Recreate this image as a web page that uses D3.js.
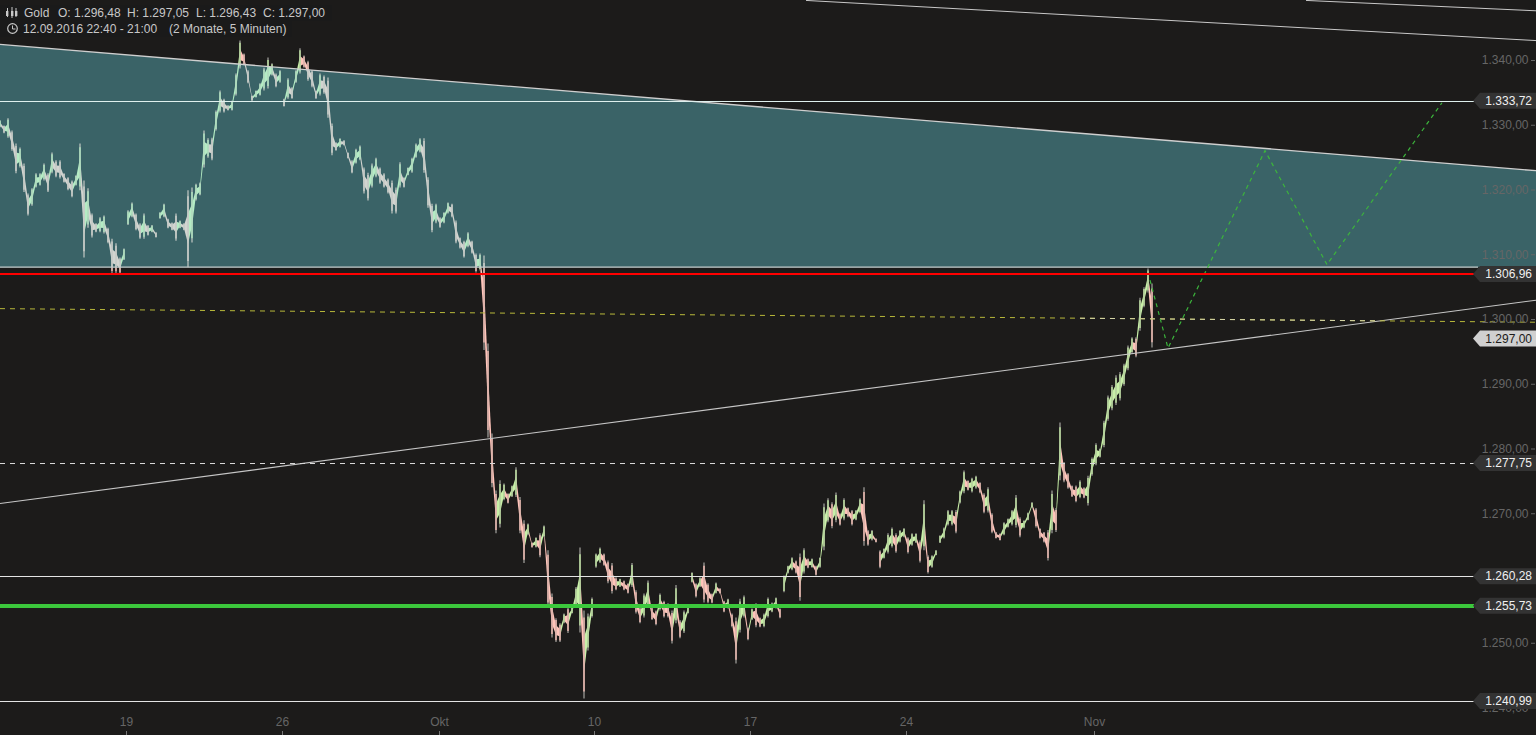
<!DOCTYPE html>
<html><head><meta charset="utf-8">
<script src="https://cdn.jsdelivr.net/npm/d3@7"></script>
<style>
html,body{margin:0;padding:0;background:#1c1b1a;overflow:hidden}
svg{display:block}
text{font-family:"Liberation Sans",Arial,sans-serif;font-size:12px}
</style></head><body>
<svg id="c" width="1536" height="735"></svg>
<script>
// one sample for every 4-pixel column of the original chart
const highs = [
1330.7,1329.9,1331,1329.1,1327.1,1326.5,1324,1319.4,1320.2,1322.5,
1322.5,1324,1322.5,1325.7,1324.5,1324.5,1322.5,1321.9,1321.4,1322.2,
1327.1,1321.4,1320.2,1316.3,1314.8,1315.7,1316,1314.1,1312.4,1311.7,
1309.5,1310.9,1316.8,1318,1316.3,1314.8,1316.3,1314.5,1314.5,1313.4,
1316.5,1317.8,1315.5,1314.9,1316.3,1315.2,1314.8,1319.9,1320.3,1320.9,
1321.1,1329.1,1327.9,1328,1332.2,1335.3,1334,1333,1333.7,1337.9,
1343,1341,1338.4,1334.5,1335.3,1336.4,1338.8,1340.4,1339.5,1337.9,
1338.4,1334,1337.2,1335.8,1338.4,1341.8,1340.7,1339.9,1338.4,1335.3,
1337.9,1337.6,1337.3,1330.2,1327.3,1327.9,1327.6,1325.7,1324.5,1326.3,
1326.8,1323.4,1322.6,1324,1324.9,1323.4,1322.5,1321.7,1321.4,1320.3,
1324.2,1321.9,1323.4,1324.9,1327.1,1327.9,1327.9,1321.9,1317.8,1317.8,
1315.7,1316.5,1318,1317.8,1315.2,1312.6,1312.1,1313.4,1312.1,1310.1,
1310.1,1309.8,1296.2,1282.3,1273.5,1275.1,1274.6,1273.1,1274.3,1277.1,
1272.5,1268.9,1268.4,1265.5,1266.3,1266.9,1268.1,1264.3,1257.6,1253.8,
1253,1254.5,1255.5,1255.5,1258.6,1264.7,1255,1254.5,1257,1263.8,
1264.7,1263.8,1262.7,1262.3,1260.1,1259.9,1259.6,1259.2,1262.3,1258.1,
1255.5,1257.6,1259.6,1255.5,1255,1257.6,1256.5,1256.1,1255,1258.9,
1253.5,1255,1255.5,1260.9,1259.2,1260.1,1262.4,1259.2,1257.6,1259.3,
1258.4,1256.5,1256.8,1254.5,1253.9,1256.8,1257.3,1252.4,1255.3,1256.1,
1253.9,1254.5,1257,1256.2,1257,1255.3,1260.4,1261.9,1263.2,1262.7,
1263.8,1264.6,1263,1263,1261.9,1263.2,1271.5,1272.3,1271.7,1273.2,
1270,1272.3,1270.9,1270.5,1270.5,1272.3,1274,1267.4,1267.4,1266.1,
1264.3,1264.6,1266.9,1267.8,1266.9,1267.4,1267.7,1266.3,1266.9,1266.9,
1265.8,1272,1263.5,1263.5,1264.3,1266.6,1267.8,1270.5,1270.5,1270.5,
1273.5,1276.6,1275.1,1275.5,1275.8,1274.8,1273.1,1274,1270,1267.1,
1266.9,1268.6,1269.2,1270.5,1272.8,1269.4,1268.9,1270.1,1271.7,1270.8,
1267.7,1267.1,1267.4,1273.5,1270.8,1284,1277.9,1276.2,1274.3,1274.3,
1275.1,1274,1275.8,1278.6,1280.8,1280,1284.3,1288.2,1289.8,1291.3,
1291.8,1293.1,1295.9,1297.2,1297.2,1303.3,1304.9,1307.8,1305.5
];
const lows = [
1329.6,1328.7,1328,1326,1322.5,1323.4,1319.6,1316,1317.5,1320.3,
1320.6,1321.4,1319.6,1322.5,1321.9,1321.7,1321.1,1319.9,1318.8,1320.6,
1319.9,1309.5,1314.1,1312.6,1313.4,1313.4,1313.2,1311.7,1307,1307,
1307,1309.1,1314.5,1315.7,1313.7,1312.4,1312.4,1312.9,1313.4,1312.6,
1315.5,1315.7,1314,1313.7,1312.1,1314,1313.7,1308,1311.8,1318.3,
1319.1,1323.4,1324.9,1324.5,1329.1,1331.9,1331.9,1332.2,1332.2,1334.5,
1338.7,1339.2,1336.4,1333.7,1334.2,1334.5,1335.3,1335.6,1337.6,1335.8,
1336.5,1332.8,1334,1334,1336.5,1337.9,1338.8,1336.8,1335.8,1334,
1334.5,1334.8,1331.1,1325.3,1326,1326.5,1326.8,1324.8,1322.5,1324,
1324.5,1319.4,1318.3,1320.3,1321.9,1320.9,1320.3,1319.4,1316.3,1316.3,
1320.3,1320.3,1322.2,1322.6,1324.9,1325.7,1322.6,1317.2,1313.4,1314.8,
1314.1,1314.8,1316.3,1315.7,1311.7,1310.9,1309.5,1311.1,1310.1,1307.2,
1307.5,1295.2,1281.7,1274,1266.9,1267.8,1272,1271.5,1272.5,1272.5,
1266.9,1262.3,1266.6,1264.7,1264.7,1263.2,1266.3,1255.5,1250.8,1250.1,
1250.1,1253,1251.5,1254.5,1255.5,1251.6,1241.4,1248.8,1253.9,1261.6,
1262.3,1261.9,1259.2,1257.6,1258.1,1258.6,1258.1,1257.6,1258.6,1254.5,
1253,1253.9,1255.5,1253.5,1252.7,1255,1253.9,1253.9,1249.9,1253,
1250.7,1251.5,1254.5,1259.3,1257,1258.6,1256.2,1256.1,1256.1,1257.6,
1257.6,1254.7,1255.3,1252.4,1246.8,1251.6,1253.9,1250.4,1253.5,1252.4,
1252.4,1252.4,1253.9,1254.7,1255.3,1253.8,1257.8,1260.7,1261.2,1260.7,
1256.5,1260.7,1261.5,1261.6,1260.4,1261.6,1264.3,1268.6,1267.7,1268.6,
1268.1,1268.9,1269.4,1268.1,1268.9,1270,1265,1265,1265.8,1265.5,
1261.5,1263,1263.8,1264.7,1263.9,1265.5,1266.3,1263.8,1265,1265.4,
1262.4,1264.3,1260.7,1261.6,1263.5,1265.4,1266.1,1268.1,1268.1,1266.9,
1271.5,1273.1,1273.5,1273.2,1273.8,1273.1,1270,1270.1,1266.9,1266.1,
1265.8,1266.6,1267.8,1268.1,1267.8,1266.3,1267.7,1268.9,1270.8,1267.8,
1266.1,1265.5,1262.7,1266.9,1267.1,1275.1,1274.8,1273.8,1272.5,1271.7,
1272.3,1272.3,1271.2,1275.8,1277.4,1278.6,1280.2,1284.3,1285.9,1286.7,
1287.4,1289.7,1292.1,1294.7,1294.1,1298.2,1301.8,1304.1,1295.6
];
const sessionBreaks = [31, 39, 70, 148, 172, 195, 219, 234];
const dateTickIndex = [31.5, 70.5, 109.75, 148.5, 187.5, 226.5, 273.5];
const dateTickLabels = ["19", "26", "Okt", "10", "17", "24", "Nov"];
const priceTicks = [1340,1330,1320,1310,1300,1290,1280,1270,1260,1250,1240];
const levelValues = [1333.72, 1306.96, 1277.75, 1260.28, 1255.73, 1240.99];
const bandTop = [[0,1342.4],[384,1322.9]];
const bandBottomPrice = 1308;
const riseLine = [[0,1271.5],[384,1302.9]];
const yellowLine = [[0,1301.6],[384,1299.5]];
const yellowLinePale = [[270,1300.12],[345,1299.71]];
const upperLineA = [[201.5,1349.2],[384,1343]];
const upperLineB = [[326.5,1349.2],[384,1347.6]];
const forecast = [[287.5,1306],[292,1295.5],[316.25,1326],[331.75,1308.4],[360.5,1333.4]];
const lastClose = 1297.00;

const W = 1536, H = 735, lineEnd = 368.5;
const x = d3.scaleLinear().domain([0,384]).range([0,W]);
const y = d3.scaleLinear().domain([1340,1250]).range([60,642.75]);
const de = d3.formatLocale({decimal:",",thousands:".",grouping:[3],currency:["","€"]}).format(",.2f");
const svg = d3.select("#c");
svg.append("rect").attr("width",W).attr("height",H).attr("fill","#1c1b1a");
const defs = svg.append("defs");
const path = d3.line().x(d=>x(d[0])).y(d=>y(d[1]));

const bandPoly = [bandTop[0],bandTop[1],[384,bandBottomPrice],[0,bandBottomPrice]];
svg.append("path").attr("d",path(bandPoly)+"Z").attr("fill","#3a6367");
defs.append("clipPath").attr("id","inBand").append("path").attr("d",path(bandPoly)+"Z");
const outClip = defs.append("clipPath").attr("id","outBand");
outClip.append("path").attr("d",path([[0,1352],[384,1352],bandTop[1],bandTop[0]])+"Z");
outClip.append("path").attr("d",path([[0,bandBottomPrice],[384,bandBottomPrice],[384,1230],[0,1230]])+"Z");

const idx = d3.range(highs.length);
const mid = i => (highs[i]+lows[i])/2;
const isUp = i => i===0 || mid(i)>=mid(i-1);
function candles(clip, upCol, downCol, wick){
  const g = svg.append("g").attr("clip-path",`url(#${clip})`);
  const area = d3.area().x(i=>x(i))
    .y0(i=>y(mid(i)-(highs[i]-lows[i])*.2))
    .y1(i=>y(mid(i)+(highs[i]-lows[i])*.2));
  g.selectAll("path.rib").data(idx.slice(0,-1).filter(i=>!sessionBreaks.includes(i)))
    .join("path").attr("class","rib")
    .attr("d",i=>area([i,i+1]))
    .attr("fill",i=>isUp(i+1)?upCol:downCol);
  g.selectAll("line.w").data(idx).join("line").attr("class","w")
    .attr("x1",i=>x(i)).attr("x2",i=>x(i))
    .attr("y1",i=>y(highs[i])).attr("y2",i=>y(lows[i]))
    .attr("stroke",wick).attr("stroke-width",1.5);
  g.selectAll("line.b").data(idx).join("line").attr("class","b")
    .attr("x1",i=>x(i)).attr("x2",i=>x(i))
    .attr("y1",i=>y(highs[i]-(highs[i]-lows[i])*.08)).attr("y2",i=>y(lows[i]+(highs[i]-lows[i])*.08))
    .attr("stroke",i=>isUp(i)?upCol:downCol).attr("stroke-width",1.3);
}
candles("outBand","#c8f0a8","#ffc4ba","#8a8a86");
candles("inBand","#b4ecc4","#d2d4d0","#a8b4b2");

// trend lines
const drawLine = (pts,col,w,dash)=>svg.append("path").attr("d",path(pts)).attr("fill","none")
  .attr("stroke",col).attr("stroke-width",w).attr("stroke-dasharray",dash||null);
drawLine(upperLineA,"#c8c8c8",1);
drawLine(upperLineB,"#c8c8c8",1);
drawLine(bandTop,"#cfcfcf",1.3);
drawLine([[0,bandBottomPrice],[lineEnd+1,bandBottomPrice]],"#c4cccc",1.3);
drawLine(riseLine,"#c6c6c6",1.1);
drawLine(yellowLine,"#b8b83a",1,"5 5");
drawLine(yellowLinePale,"#d4d4a8",1,"5 5");
drawLine(forecast,"#3cb43c",1.2,"4 4");

// horizontal levels
const levelStyle = {
  1333.72:["#dff0ee",1,null,.5],1306.96:["#ff0000",2,null,.5],1277.75:["#d8d8d8",1,"5 5",.5],
  1260.28:["#e4e4e4",1,null,.5],1255.73:["#3cc83c",4,null,0],1240.99:["#e4e4e4",1,null,.5]
};
// price axis
const axisY = d3.axisLeft(y).tickValues(priceTicks).tickSize(4).tickPadding(2.5).tickFormat(de);
const ay = svg.append("g").attr("transform","translate(1535,0)").call(axisY);
ay.select(".domain").remove();
ay.selectAll("line").attr("stroke","#666");
ay.selectAll("text").attr("fill","#666").attr("font-size",12)
  .attr("font-family",'"Liberation Sans",Arial,sans-serif');
// date axis
const axisX = d3.axisTop(x).tickValues(dateTickIndex).tickSize(4).tickPadding(5)
  .tickFormat(d=>dateTickLabels[dateTickIndex.indexOf(d)]);
const ax = svg.append("g").attr("transform",`translate(0,${H})`).call(axisX);
ax.select(".domain").remove();
ax.selectAll("line").attr("stroke","#777");
ax.selectAll("text").attr("fill","#666").attr("font-size",12)
  .attr("font-family",'"Liberation Sans",Arial,sans-serif');

levelValues.forEach(v=>{
  const s = levelStyle[v];
  drawLine([[0,v],[lineEnd,v]],s[0],s[1],s[2])
    .attr("shape-rendering","crispEdges").attr("transform",`translate(0,${s[3]})`);
});
// value tags
function tag(v,fill,col){
  const yy = y(v);
  const g = svg.append("g").attr("transform",`translate(0,${yy})`);
  g.append("path").attr("d","M1473,0L1480,-8H1536V8H1480Z").attr("fill",fill);
  g.append("text").attr("x",1532).attr("y",4.3).attr("text-anchor","end").attr("fill",col).text(de(v));
}
levelValues.forEach(v=>tag(v,"#333333","#f0f0f0"));
tag(lastClose,"#d0d0d0","#1c1b1a");

// legend
const L = svg.append("g").attr("fill","#c8c8c8");
L.append("rect").attr("x",0).attr("y",5).attr("width",332).attr("height",16).attr("fill","#1a1a1a");
L.append("rect").attr("x",0).attr("y",21).attr("width",292).attr("height",16).attr("fill","#1a1a1a");
[[7,"M7.5,8V17"],[12,"M12,7V18"],[16,"M16,8V17"]].forEach(d=>{
  L.append("path").attr("d",d[1]).attr("stroke","#c8c8c8").attr("fill","none");
  L.append("rect").attr("x",d[0]-1).attr("y",11).attr("width",2.4).attr("height",5).attr("fill","#c8c8c8");
});
L.append("circle").attr("cx",12.5).attr("cy",28.5).attr("r",4.8).attr("fill","none").attr("stroke","#c8c8c8").attr("stroke-width",1.2);
L.append("path").attr("d","M12.5,25.5V29H15.5").attr("fill","none").attr("stroke","#c8c8c8");
[["Gold",24,17],["O: 1.296,48",58,17],["H: 1.297,05",127,17],["L: 1.296,43",196,17],["C: 1.297,00",263,17],
 ["12.09.2016 22:40 - 21:00",23,33],["(2 Monate, 5 Minuten)",169,33]]
 .forEach(d=>L.append("text").attr("x",d[1]).attr("y",d[2]).attr("fill","#c8c8c8").text(d[0]));
</script>
</body></html>
